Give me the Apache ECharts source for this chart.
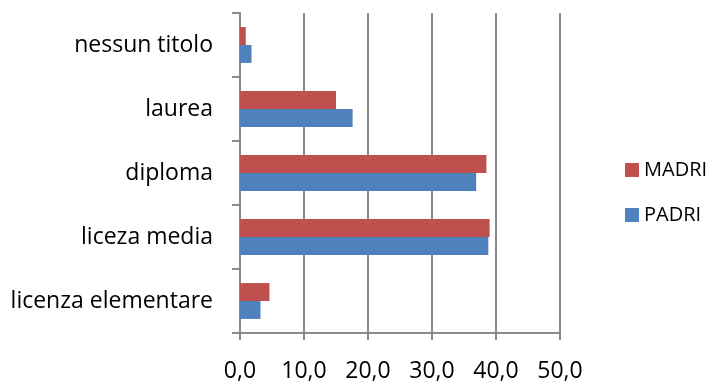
<!DOCTYPE html>
<html>
<head>
<meta charset="utf-8">
<script src="https://cdn.jsdelivr.net/npm/echarts@6/dist/echarts.min.js"></script>
<style>
  html, body { margin: 0; padding: 0; background: #fff; }
  #chart { width: 714px; height: 385px; }
</style>
</head>
<body>
<div id="chart"></div>
<script>
// Titolo di studio dei genitori (%)
const categories = ['licenza elementare', 'liceza media', 'diploma', 'laurea', 'nessun titolo'];
const madri = [4.6, 39.0, 38.5, 15.0, 0.9];
const padri = [3.2, 38.8, 36.9, 17.6, 1.8];
const xTicks = { min: 0, max: 50, interval: 10 };

const FONT = 'Open Sans';
const gridColor = '#8a8a8a';

const chart = echarts.init(document.getElementById('chart'), null, { renderer: 'canvas' });
chart.setOption({
  animation: false,
  backgroundColor: '#ffffff',
  textStyle: { fontFamily: FONT },
  grid: { left: 240, right: 154, top: 13, bottom: 52, containLabel: false },
  legend: {
    orient: 'vertical',
    left: 620,
    top: 155,
    itemWidth: 14,
    itemHeight: 14,
    itemGap: 25,
    icon: 'rect',
    data: ['MADRI', 'PADRI'],
    textStyle: { fontFamily: FONT, fontSize: 20, color: '#000' }
  },
  xAxis: {
    type: 'value',
    min: xTicks.min,
    max: xTicks.max,
    interval: xTicks.interval,
    axisLine: { show: true, lineStyle: { color: gridColor, width: 2 } },
    axisTick: { show: true, length: 7, lineStyle: { color: gridColor, width: 2 } },
    splitLine: { show: true, lineStyle: { color: gridColor, width: 2 } },
    axisLabel: {
      fontFamily: FONT, fontSize: 23, color: '#000', margin: 27,
      formatter: v => v.toFixed(1).replace('.', ',')
    }
  },
  yAxis: {
    type: 'category',
    data: categories,
    axisLine: { show: true, lineStyle: { color: gridColor, width: 2 } },
    axisTick: { show: true, length: 8, lineStyle: { color: gridColor, width: 2 } },
    axisLabel: { fontFamily: FONT, fontSize: 23, color: '#000', margin: 27, padding: [4, 0, 0, 0] }
  },
  series: [
    {
      name: 'MADRI', type: 'bar', data: madri,
      itemStyle: { color: '#C0504D' },
      barGap: '0%', barCategoryGap: '44%'
    },
    {
      name: 'PADRI', type: 'bar', data: padri,
      itemStyle: { color: '#4F81BD' },
      barGap: '0%', barCategoryGap: '44%'
    }
  ]
});
</script>
</body>
</html>
